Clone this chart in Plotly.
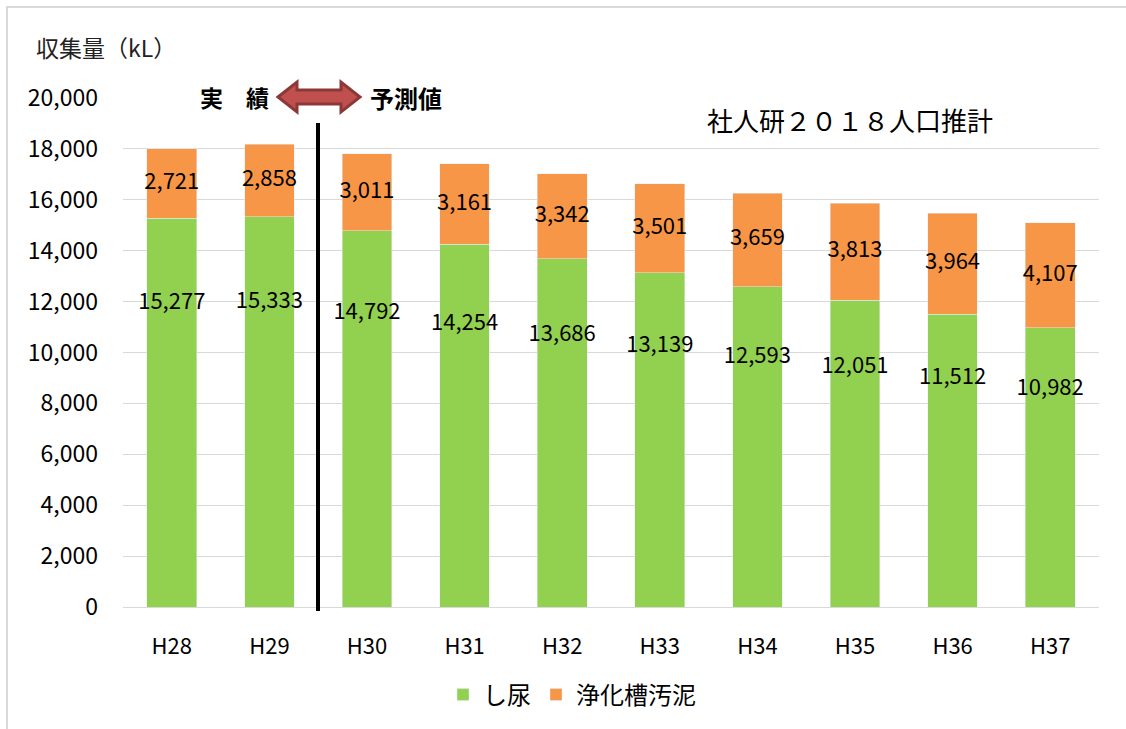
import plotly.graph_objects as go

categories = ["H28", "H29", "H30", "H31", "H32", "H33", "H34", "H35", "H36", "H37"]
shinyo = [15277, 15333, 14792, 14254, 13686, 13139, 12593, 12051, 11512, 10982]
odei = [2721, 2858, 3011, 3161, 3342, 3501, 3659, 3813, 3964, 4107]
y_ticks = list(range(0, 20001, 2000))

FONT = "Noto Sans CJK JP"
GREEN = "#92D050"
ORANGE = "#F79646"

fig = go.Figure()
fig.add_trace(go.Bar(x=categories, y=shinyo, name="し尿", marker_color=GREEN))
fig.add_trace(go.Bar(x=categories, y=odei, name="浄化槽汚泥", marker_color=ORANGE))

# data labels
fig.add_trace(go.Scatter(
    x=categories, y=[v * 0.78 for v in shinyo], mode="text",
    text=[f"{v:,}" for v in shinyo], textfont=dict(size=22, color="black", family=FONT),
    showlegend=False, hoverinfo="skip"))
fig.add_trace(go.Scatter(
    x=categories, y=[g + o / 2 for g, o in zip(shinyo, odei)], mode="text",
    text=[f"{v:,}" for v in odei], textfont=dict(size=22, color="black", family=FONT),
    showlegend=False, hoverinfo="skip"))

L, R, T, B = 123, 27, 98, 122
W, H = 1126, 729
pw, ph = W - L - R, H - T - B

def px(x):
    return (x - L) / pw

def py(y):
    return (H - B - y) / ph

shapes = []
# outer chart border
shapes.append(dict(type="rect", xref="paper", yref="paper",
                   x0=px(7), x1=px(1140), y0=py(7), y1=py(745),
                   line=dict(color="#D9D9D9", width=2), fillcolor="rgba(0,0,0,0)", layer="below"))
# divider line
shapes.append(dict(type="line", xref="paper", yref="paper",
                   x0=px(318), x1=px(318), y0=py(611), y1=py(123),
                   line=dict(color="black", width=4)))
# double-headed arrow
ax0, ax1, cy = 278, 360, 97
hl, hh, sh = 19, 15, 7
pts = [(ax0, cy), (ax0 + hl, cy - hh), (ax0 + hl, cy - sh), (ax1 - hl, cy - sh), (ax1 - hl, cy - hh),
       (ax1, cy), (ax1 - hl, cy + hh), (ax1 - hl, cy + sh), (ax0 + hl, cy + sh), (ax0 + hl, cy + hh)]
path = "M " + " L ".join(f"{px(a):.5f},{py(b):.5f}" for a, b in pts) + " Z"
shapes.append(dict(type="path", xref="paper", yref="paper", path=path,
                   fillcolor="#C0504D", line=dict(color="#8C3836", width=3)))

annotations = [
    dict(text="収集量（kL）", xref="paper", yref="paper", x=px(34), y=py(47),
         xanchor="left", yanchor="middle", showarrow=False,
         font=dict(size=23, color="#222", family=FONT)),
    dict(text="<b>実　績</b>", xref="paper", yref="paper", x=px(234), y=py(97),
         xanchor="center", yanchor="middle", showarrow=False,
         font=dict(size=23, color="black", family=FONT)),
    dict(text="<b>予測値</b>", xref="paper", yref="paper", x=px(406), y=py(97),
         xanchor="center", yanchor="middle", showarrow=False,
         font=dict(size=24, color="black", family=FONT)),
    dict(text="社人研２０１８人口推計", xref="paper", yref="paper", x=px(850), y=py(119),
         xanchor="center", yanchor="middle", showarrow=False,
         font=dict(size=26, color="black", family=FONT)),
]

fig.update_layout(
    barmode="stack",
    bargap=0.49,
    width=W, height=H,
    margin=dict(l=L, r=R, t=T, b=B, autoexpand=False),
    paper_bgcolor="white", plot_bgcolor="white",
    font=dict(family=FONT, color="black", size=21),
    shapes=shapes, annotations=annotations,
    legend=dict(orientation="h", x=px(572), xanchor="center", y=py(695), yanchor="middle",
                font=dict(size=24, family=FONT), itemwidth=30, traceorder="normal"),
    xaxis=dict(type="category", tickfont=dict(size=22), showgrid=False, showline=True,
               linecolor="#D9D9D9", linewidth=1, ticks="", ticklabelstandoff=20),
    yaxis=dict(range=[0, 20000], tickvals=y_ticks, tickformat=",", tickfont=dict(size=23),
               showgrid=True, gridcolor="#D9D9D9", gridwidth=1, zeroline=False,
               showline=False, ticks="", ticklabelstandoff=24),
)

fig.write_html("out.html", post_script="document.body.style.margin='0';",
               config={"displayModeBar": False})
